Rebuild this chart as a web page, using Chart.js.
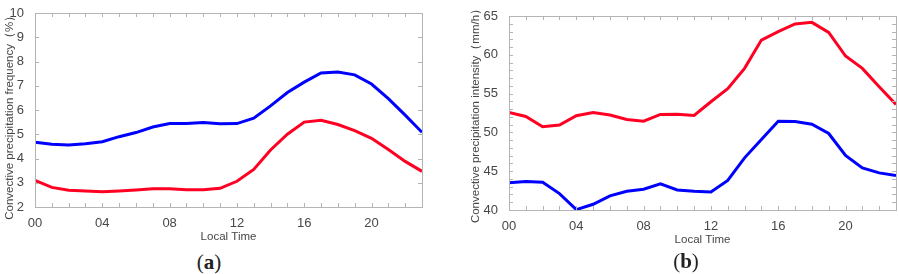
<!DOCTYPE html>
<html>
<head>
<meta charset="utf-8">
<script src="https://cdn.jsdelivr.net/npm/chart.js@4"></script>
<style>
  body { margin: 0; background: #fff; width: 899px; height: 274px; position: relative; overflow: hidden; }
  canvas { position: absolute; top: 0; }
  #chartA { left: 0; }
  #chartB { left: 450px; }
  .cap { position: absolute; font-family: 'Liberation Serif', 'DejaVu Serif', serif; font-size: 21px; color: #222; transform: translate(-50%, -50%); }
  .cap b { font-weight: bold; }
</style>
</head>
<body>
<canvas id="chartA" width="450" height="248"></canvas>
<canvas id="chartB" width="449" height="251"></canvas>
<div class="cap" style="left:209px; top:262px;">(<b>a</b>)</div>
<div class="cap" style="left:686px; top:261px;">(<b>b</b>)</div>
<script>
'use strict';
const hours = [0, 1, 2, 3, 4, 5, 6, 7, 8, 9, 10, 11, 12, 13, 14, 15, 16, 17, 18, 19, 20, 21, 22, 23];

// (a) frequency, %
const freqBlue = [4.67, 4.59, 4.56, 4.61, 4.69, 4.90, 5.07, 5.30, 5.44, 5.44, 5.48, 5.43, 5.44, 5.66,
  6.17, 6.72, 7.15, 7.53, 7.57, 7.45, 7.07, 6.47, 5.79, 5.08];
const freqRed = [3.10, 2.81, 2.69, 2.66, 2.63, 2.66, 2.70, 2.75, 2.75, 2.71, 2.71, 2.77, 3.06, 3.55,
  4.35, 5.00, 5.50, 5.58, 5.40, 5.15, 4.83, 4.37, 3.88, 3.47];

// (b) intensity, mm/h
const intenRed = [52.57, 52.05, 50.72, 50.94, 52.14, 52.57, 52.23, 51.67, 51.45, 52.31, 52.35, 52.18,
  53.95, 55.62, 58.25, 61.9, 62.98, 63.97, 64.18, 62.89, 59.84, 58.25, 55.88, 53.61];
const intenBlue = [43.5, 43.67, 43.58, 42.12, 40.05, 40.74, 41.82, 42.42, 42.68, 43.37, 42.59, 42.42,
  42.33, 43.8, 46.72, 49.09, 51.45, 51.4, 51.06, 49.86, 47.02, 45.43, 44.78, 44.44];

const xLabelEvery = 4;
const blue = 'rgb(0, 0, 255)';
const red = 'rgb(255, 0, 35)';
const frameColor = '#b4b4b4';
const textColor = '#474747';
const fontFam = "'Liberation Sans', Arial, sans-serif";

// frame round the plot plus inward ticks on all sides (matlab look)
const frameTicks = {
  id: 'frameTicks',
  afterDraw(chart, args, opts) {
    const ctx = chart.ctx;
    const a = chart.chartArea;
    const x = chart.scales.x;
    const y = chart.scales.y;
    const len = 4;
    ctx.save();
    ctx.strokeStyle = frameColor;
    ctx.lineWidth = 1;
    ctx.strokeRect(Math.round(a.left) + 0.5, Math.round(a.top) + 0.5,
      Math.round(a.right - a.left), Math.round(a.bottom - a.top));
    ctx.beginPath();
    for (let v = x.min; v <= x.max; v += 1) {
      const px = Math.round(x.getPixelForValue(v)) + 0.5;
      ctx.moveTo(px, a.bottom);
      ctx.lineTo(px, a.bottom - len);
      ctx.moveTo(px, a.top);
      ctx.lineTo(px, a.top + len);
    }
    for (let v = y.min; v <= y.max + 1e-9; v += opts.yMinor) {
      const py = Math.round(y.getPixelForValue(v)) + 0.5;
      ctx.moveTo(a.left, py);
      ctx.lineTo(a.left + len, py);
      ctx.moveTo(a.right, py);
      ctx.lineTo(a.right - len, py);
    }
    ctx.stroke();
    ctx.restore();
  }
};

function makeChart(id, series, yMin, yMax, yStep, yMinor, yTitle, yWidth, pad) {
  const ctx = document.getElementById(id).getContext('2d');
  return new Chart(ctx, {
    type: 'line',
    data: {
      labels: hours,
      datasets: series.map(s => ({
        data: hours.map((h, i) => ({ x: h, y: s.values[i] })),
        borderColor: s.color,
        borderWidth: 3,
        pointRadius: 0,
        tension: 0,
        fill: false
      }))
    },
    options: {
      responsive: false,
      animation: false,
      devicePixelRatio: 1,
      layout: { padding: pad },
      plugins: {
        legend: { display: false },
        tooltip: { enabled: false },
        frameTicks: { yMinor: yMinor }
      },
      scales: {
        x: {
          type: 'linear',
          min: 0,
          max: 23,
          afterFit: s => { s.height = 41; },
          grid: { display: false },
          border: { display: false },
          ticks: {
            stepSize: 1,
            autoSkip: false,
            maxRotation: 0,
            padding: 1,
            color: textColor,
            font: { family: fontFam, size: 13 },
            callback: v => (v % xLabelEvery === 0 ? String(v).padStart(2, '0') : '')
          },
          title: {
            display: true,
            text: 'Local Time',
            color: textColor,
            padding: { top: 0, bottom: 4 },
            font: { family: fontFam, size: 11.5 }
          }
        },
        y: {
          min: yMin,
          max: yMax,
          afterFit: s => { s.width = yWidth; },
          grid: { display: false },
          border: { display: false },
          ticks: {
            stepSize: yStep,
            padding: 3,
            color: textColor,
            font: { family: fontFam, size: 13 }
          },
          title: {
            display: true,
            text: yTitle,
            color: textColor,
            padding: { top: 3, bottom: 0 },
            font: { family: fontFam, size: 11.5 }
          }
        }
      }
    },
    plugins: [frameTicks]
  });
}

makeChart('chartA',
  [{ values: freqBlue, color: blue }, { values: freqRed, color: red }],
  2, 10, 1, 1, 'Convective precipitation frequency（%）   ', 35,
  { left: 0, top: 13, right: 28, bottom: 0 });

makeChart('chartB',
  [{ values: intenRed, color: red }, { values: intenBlue, color: blue }],
  40, 65, 5, 1, 'Convective precipitation intensity（mm/h）', 43,
  { left: 16, top: 16, right: 3, bottom: 0 });
</script>
</body>
</html>
